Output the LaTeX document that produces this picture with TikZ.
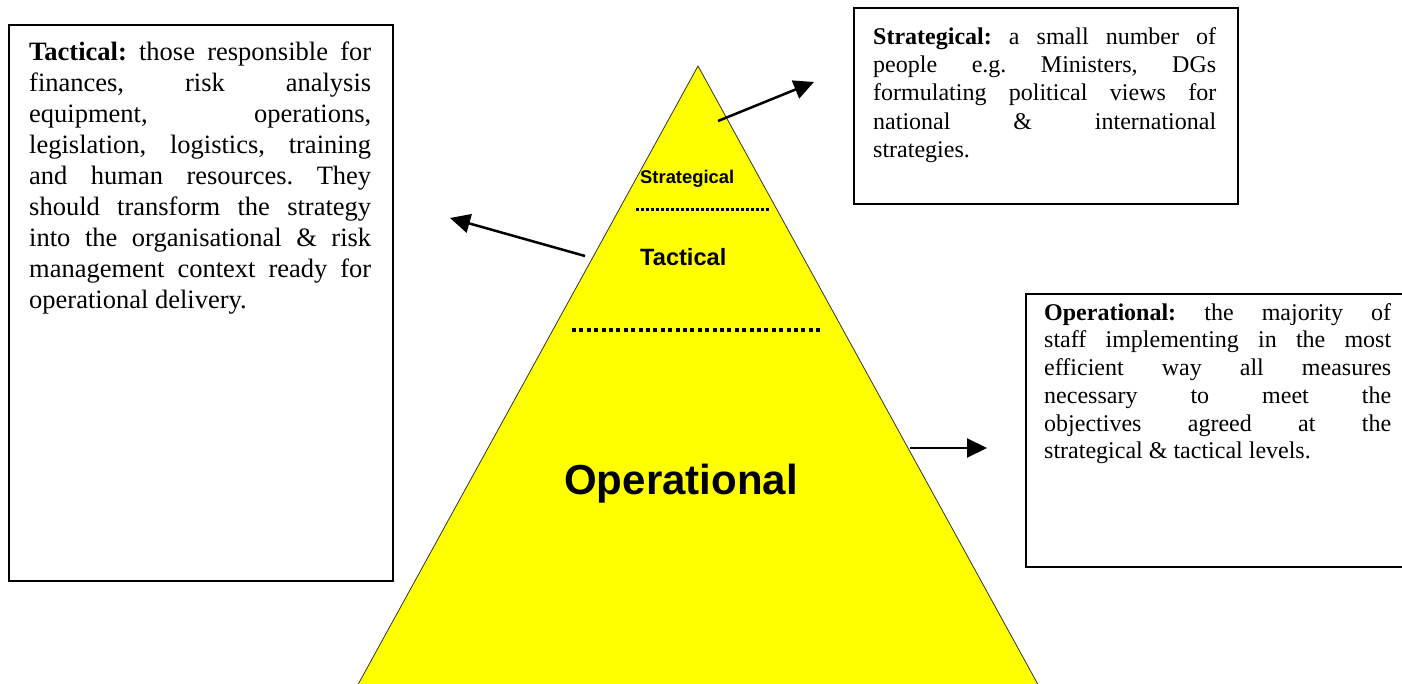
\documentclass[tikz,border=0pt]{standalone}
\usepackage{fontspec}
\setmainfont{Liberation Serif}
\newfontfamily\arialfont{Liberation Sans}
\usetikzlibrary{arrows.meta}
\definecolor{pyryellow}{RGB}{255,255,0}
\frenchspacing
\newcommand{\jst}[2]{\makebox[#1][s]{#2}}
\begin{document}
\begin{tikzpicture}[x=1pt,y=-1pt,
  frame/.style={draw=black,line width=2pt,inner sep=0pt,anchor=north west},
  boxtext/.style={inner sep=0pt,anchor=north west,align=left},
  lvl/.style={inner sep=0pt,anchor=base west},
  dotsA/.style={line width=3pt,dash pattern=on 3pt off 2pt},
  dotsB/.style={line width=3.5pt,dash pattern=on 4pt off 3.4pt},
  pointer/.style={line width=2.5pt,-{Triangle[length=20pt,width=19pt]}},
]
\useasboundingbox (0,0) rectangle (1402,684);
\fill[white] (0,0) rectangle (1402,684);

% pyramid
\fill[pyryellow] (698,66) -- (355,690) -- (1041,690) -- cycle;
\draw[line width=0.8pt,black!80] (355,690) -- (698,66) -- (1041,690);

% dotted separators
\draw[dotsA] (636,210) -- (769,210);
\draw[dotsB] (572,330) -- (823,330);

% level labels
\node[lvl,font=\arialfont\bfseries\fontsize{18.4}{22}\selectfont] (strlab) at (640,184) {Strategical};
\node[lvl,font=\arialfont\bfseries\fontsize{23.6}{28}\selectfont] (taclab) at (640,266) {Tactical};
\node[inner sep=0pt,anchor=base,font=\arialfont\bfseries\fontsize{42}{50}\selectfont] (oplab) at (681,494) {Operational};

% boxes
\node[frame,minimum width=384pt,minimum height=556pt] (tacbox) at (8,24) {};
\node[frame,minimum width=384pt,minimum height=196pt] (strbox) at (853,7) {};
\node[frame,minimum width=400pt,minimum height=273pt] (opbox) at (1025,293) {};

\node[boxtext,font=\fontsize{26.5}{31}\selectfont] (tactxt) at (29,40) {%
\rule{0pt}{20pt}\jst{342pt}{\textbf{Tactical:} those responsible for}\\
\jst{342pt}{finances, risk analysis}\\
\jst{342pt}{equipment, operations,}\\
\jst{342pt}{legislation, logistics, training}\\
\jst{342pt}{and human resources. They}\\
\jst{342pt}{should transform the strategy}\\
\jst{342pt}{into the organisational \& risk}\\
\jst{342pt}{management context ready for}\\
operational delivery.};

\node[boxtext,font=\fontsize{24}{28.3}\selectfont] (strtxt) at (873,26) {%
\rule{0pt}{18pt}\jst{343pt}{\textbf{Strategical:} a small number of}\\
\jst{343pt}{people e.g. Ministers, DGs}\\
\jst{343pt}{formulating political views for}\\
\jst{343pt}{national \& international}\\
strategies.};

\node[boxtext,font=\fontsize{24}{27.7}\selectfont] (optxt) at (1044,302) {%
\rule{0pt}{18pt}\jst{347pt}{\textbf{Operational:} the majority of}\\
\jst{347pt}{staff implementing in the most}\\
\jst{347pt}{efficient way all measures}\\
\jst{347pt}{necessary to meet the}\\
\jst{347pt}{objectives agreed at the}\\
strategical \& tactical levels.};

% arrows
\coordinate (sfrom) at (718,121);
\coordinate (sto) at (814,82);
\coordinate (tfrom) at (585,256);
\coordinate (tto) at (450,218);
\coordinate (ofrom) at (910,448);
\coordinate (oto) at (987,448);
\draw[pointer] (sfrom) -- (sto);
\draw[pointer] (tfrom) -- (tto);
\draw[pointer,line width=2pt] (ofrom) -- (oto);
\end{tikzpicture}
\end{document}
